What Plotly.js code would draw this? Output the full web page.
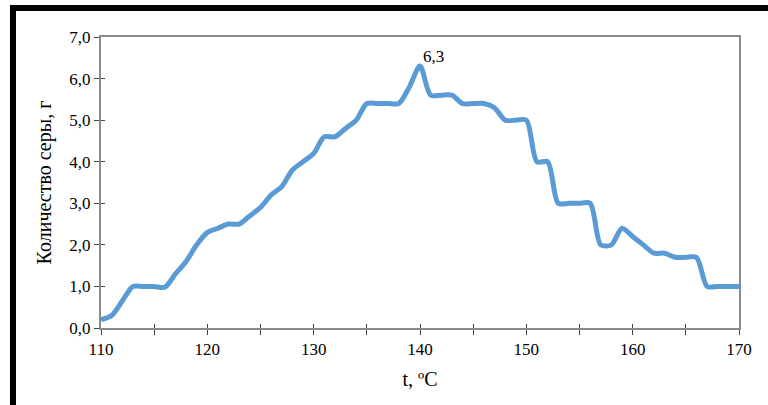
<!DOCTYPE html>
<html>
<head>
<meta charset="utf-8">
<script src="https://cdn.plot.ly/plotly-3.0.1.min.js"></script>
<style>
html,body{margin:0;padding:0;background:#fff;}
#wrap{position:relative;width:768px;height:405px;overflow:hidden;}
#chart{width:768px;height:405px;}
#frame{position:absolute;left:10px;top:5px;width:900px;height:600px;border-left:6px solid #000;border-top:6px solid #000;pointer-events:none;}
</style>
</head>
<body>
<div id="wrap"><div id="chart"></div><div id="frame"></div></div>
<script>
var temps = [110,111,112,113,114,115,116,117,118,119,120,121,122,123,124,125,126,127,128,129,130,131,132,133,134,135,136,137,138,139,140,141,142,143,144,145,146,147,148,149,150,151,152,153,154,155,156,157,158,159,160,161,162,163,164,165,166,167,168,169,170];
var sulfur = [0.2,0.3,0.65,1.0,1.0,1.0,0.98,1.3,1.6,2.0,2.3,2.4,2.5,2.5,2.7,2.9,3.2,3.4,3.8,4.0,4.2,4.6,4.6,4.8,5.0,5.4,5.4,5.4,5.4,5.8,6.3,5.6,5.6,5.6,5.4,5.4,5.4,5.3,5.0,5.0,5.0,4.0,4.0,3.0,3.0,3.0,3.0,2.0,2.0,2.4,2.2,2.0,1.8,1.8,1.7,1.7,1.7,1.0,1.0,1.0,1.0];
var peakLabel = "6,3";
var xTitle = "t, ºC";
var yTitle = "Количество серы, г";

var peakIdx = sulfur.indexOf(Math.max.apply(null, sulfur));
var font = "Liberation Serif";

var data = [{
  x: temps, y: sulfur, type: 'scatter', mode: 'lines',
  line: {color: '#5B9BD5', width: 5, shape: 'spline', smoothing: 0.8},
  hoverinfo: 'skip', showlegend: false
}];

var layout = {
  width: 768, height: 405,
  margin: {l: 101, r: 29, t: 37, b: 77},
  paper_bgcolor: '#ffffff', plot_bgcolor: '#ffffff',
  separators: ', ',
  font: {family: font, size: 17, color: '#000'},
  showlegend: false,
  xaxis: {
    range: [110, 170], tick0: 110, dtick: 10,
    showgrid: false, zeroline: false,
    showline: true, linecolor: '#8a8a8a', linewidth: 2, mirror: true,
    ticks: 'outside', ticklen: 5, tickcolor: '#444', tickwidth: 1,
    minor: {dtick: 5, ticks: 'outside', ticklen: 5, tickcolor: '#444', tickwidth: 1, showgrid: false},
    tickfont: {family: font, size: 17, color: '#000'},
    title: {text: xTitle, font: {family: font, size: 20, color: '#000'}, standoff: 14}
  },
  yaxis: {
    range: [0, 7], dtick: 1, tickformat: '.1f',
    showgrid: false, zeroline: false,
    showline: true, linecolor: '#8a8a8a', linewidth: 2, mirror: true,
    ticks: 'outside', ticklen: 5, tickcolor: '#444', tickwidth: 1,
    tickfont: {family: font, size: 17, color: '#000'},
    title: {text: yTitle, font: {family: font, size: 20, color: '#000'}, standoff: 12}
  },
  xaxis2: {
    overlaying: 'x', range: [110, 170], dtick: 5, side: 'bottom',
    showgrid: false, zeroline: false, showline: false, showticklabels: false,
    ticks: 'inside', ticklen: 4, tickcolor: '#444', tickwidth: 1
  },
  yaxis2: {
    overlaying: 'y', range: [0, 7], dtick: 1, side: 'left',
    showgrid: false, zeroline: false, showline: false, showticklabels: false,
    ticks: 'inside', ticklen: 4, tickcolor: '#444', tickwidth: 1
  },
  annotations: [{
    x: temps[peakIdx], y: sulfur[peakIdx], xref: 'x', yref: 'y',
    text: peakLabel, showarrow: false, xanchor: 'left', yanchor: 'bottom',
    xshift: 1, yshift: -2,
    font: {family: font, size: 17, color: '#000'}
  }]
};

data.push({x: [], y: [], xaxis: 'x2', yaxis: 'y2', type: 'scatter', mode: 'lines', showlegend: false, hoverinfo: 'skip'});

Plotly.newPlot('chart', data, layout, {displayModeBar: false, staticPlot: true});
</script>
</body>
</html>
